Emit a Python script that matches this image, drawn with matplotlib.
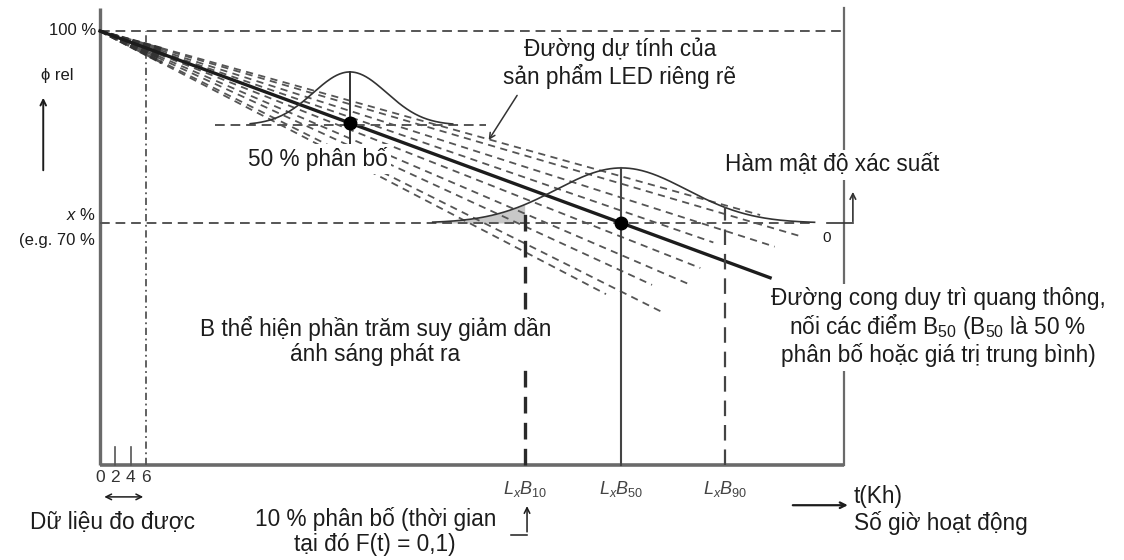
import numpy as np
import matplotlib; matplotlib.use('Agg'); import matplotlib.pyplot as plt

plt.rcParams['font.family'] = ['Liberation Sans', 'DejaVu Sans']
plt.rcParams['mathtext.fontset'] = 'custom'
plt.rcParams['mathtext.rm'] = 'Liberation Sans'
plt.rcParams['mathtext.it'] = 'Liberation Sans:italic'

# schematic data: t in kh, phi_rel in %
t_end = 97.0
phi_floor, phi_top = 32.2, 103.6
x_pct = 70
t_meas = 6
tick_vals = [0, 2, 4, 6]
t_b = [55.4, 68.0, 81.5]
b_labels = ['$L_xB_{10}$', '$L_xB_{50}$', '$L_xB_{90}$']
main_t_end = 87.4
fan_slopes = [-0.334, -0.351, -0.383, -0.413, -0.473, -0.515, -0.551, -0.599, -0.623]
fan_t_end = [86.1, 91.3, 88.0, 80.0, 78.3, 76.6, 72.0, 73.4, 66.0]
# density curves: centre, sigma, peak height, baseline, drawn range
pdf1 = dict(mu=32.6, sd=4.8, h=8.3, base=85.3, t0=19.6, t1=46.0, dash0=15.0, dash1=50.4)
pdf2 = dict(mu=68.0, sd=8.5, h=8.6, base=70.0, t0=43.4, t1=93.2)

ink = '#1c1c1c'
grey = '#555555'
axc = '#6a6a6a'
white = dict(facecolor='white', edgecolor='none', pad=2.5)
fs = 16.3

fig = plt.figure(figsize=(11.24, 5.6), dpi=100)
ax = fig.add_axes([0, 0, 1, 1])
ax.set_xlim(-13.04, 133.56)
ax.set_ylim(17.34, 104.84)
ax.axis('off')

main_slope = (x_pct - 100) / t_b[1]
g = lambda p, t: p['base'] + p['h'] * np.exp(-0.5 * ((t - p['mu']) / p['sd']) ** 2)

# frame / axes
ax.plot([0, 0], [phi_floor, phi_top], color=axc, lw=2.4, solid_capstyle='butt')
ax.plot([0, t_end], [phi_floor, phi_floor], color=axc, lw=2.6, solid_capstyle='butt')
ax.plot([t_end, t_end], [phi_floor, phi_top], color=axc, lw=1.6)
ax.plot([0, t_end], [100, 100], color=grey, lw=1.4, ls=(0, (5, 3)))
ax.plot([0, 93.2], [x_pct, x_pct], color=grey, lw=1.4, ls=(0, (5, 3)))
ax.plot([t_meas, t_meas], [phi_floor, 100], color=grey, lw=1.3, ls=(0, (4, 2, 1, 2)))
for tv in tick_vals[1:3]:
    ax.plot([tv, tv], [phi_floor, 35], color=grey, lw=1.2)

# fan of individual LED predictions
for s, te in zip(fan_slopes, fan_t_end):
    tt = np.array([0, te])
    ax.plot(tt, 100 + s * tt, color=grey, lw=1.3, ls=(0, (4, 3)))
    tm = np.array([0, t_meas + 2])
    ax.plot(tm, 100 + s * tm, color='#333333', lw=1.8, ls=(0, (3, 1.5)))

# lumen maintenance curve
tt = np.array([0, main_t_end])
ax.plot(tt, 100 + main_slope * tt, color=ink, lw=2.4)

# density 1
ax.plot([pdf1['dash0'], pdf1['dash1']], [pdf1['base']] * 2, color=grey, lw=1.4, ls=(0, (5, 3)))
tt = np.linspace(pdf1['t0'], pdf1['t1'], 200)
ax.plot(tt, g(pdf1, tt), color='#333333', lw=1.2)
ax.plot([pdf1['mu']] * 2, [82.2, pdf1['base'] + pdf1['h']], color='#333333', lw=1.4)
ax.plot([pdf1['mu']], [100 + main_slope * pdf1['mu']], 'o', color='black', ms=9)

# density 2
tt = np.linspace(pdf2['t0'], pdf2['t1'], 300)
ax.plot(tt, g(pdf2, tt), color='#333333', lw=1.2)
tf = tt[tt <= t_b[0]]
ax.fill_between(tf, pdf2['base'], g(pdf2, tf), color='#c8c8c8', lw=0)
ax.plot([pdf2['mu'], pdf2['mu']], [phi_floor, pdf2['base'] + pdf2['h']], color='#444444', lw=1.5)
ax.plot([pdf2['mu']], [x_pct], 'o', color='black', ms=9)
ax.plot([t_b[0]] * 2, [phi_floor, g(pdf2, t_b[0])], color='#2a2a2a', lw=2.4, ls=(0, (5, 2.8)))
ax.plot([t_b[2]] * 2, [phi_floor, g(pdf2, t_b[2])], color='#444444', lw=1.6, ls=(0, (7, 4)))

# density axis
ax.plot([94.8, 98.2], [x_pct, x_pct], color='#333333', lw=1.2)
ax.annotate('', xy=(98.2, 75.3), xytext=(98.2, 69.8),
            arrowprops=dict(arrowstyle='->', color='#333333', lw=1.2))
ax.text(94.8, 67.6, '0', fontsize=11, color=ink, ha='center', va='center')

# left labels
ax.text(-0.5, 100, '100 %', fontsize=12, ha='right', va='center', color=ink)
ax.text(-5.6, 93.1, 'ϕ rel', fontsize=12, ha='center', va='center', color=ink)
ax.annotate('', xy=(-7.4, 90.0), xytext=(-7.4, 77.8),
            arrowprops=dict(arrowstyle='->', color=ink, lw=1.4))
ax.text(-0.5, 71.3, '$x$ %', fontsize=12, ha='right', va='center', color=ink)
ax.text(-0.7, 67.3, '(e.g. 70 %', fontsize=12, ha='right', va='center', color=ink)

# x labels
for tv in tick_vals:
    ax.text(tv, 30.3, str(tv), fontsize=12.5, ha='center', va='center', color='#333333')
for tv, lab in zip(t_b, b_labels):
    ax.text(tv, 28.4, lab, fontsize=13, ha='center', va='center', color='#444444')
ax.annotate('', xy=(0.2, 27.2), xytext=(t_meas, 27.2),
            arrowprops=dict(arrowstyle='<->', color=ink, lw=1.1))
ax.text(1.6, 23.2, 'Dữ liệu đo được', fontsize=fs, ha='center', va='center', color=ink)
ax.text(35.9, 21.8, '10 % phân bố (thời gian\ntại đó F(t) = 0,1)', fontsize=fs,
        ha='center', va='center', multialignment='center', color=ink, linespacing=1.1)
ax.plot([53.6, 55.7], [21.3, 21.3], color=ink, lw=1.1)
ax.annotate('', xy=(55.7, 26.2), xytext=(55.7, 21.3),
            arrowprops=dict(arrowstyle='->', color=ink, lw=1.1))
ax.annotate('', xy=(97.9, 25.9), xytext=(90.0, 25.9),
            arrowprops=dict(arrowstyle='->', color=ink, lw=1.6))
ax.text(98.3, 27.3, 't(Kh)', fontsize=fs, ha='left', va='center', color=ink)
ax.text(98.3, 23.1, 'Số giờ hoạt động', fontsize=fs, ha='left', va='center', color=ink)

# annotations inside
ax.text(67.8, 95.0, 'Đường dự tính của\nsản phẩm LED riêng rẽ', fontsize=fs,
        ha='center', va='center', multialignment='center', color=ink, linespacing=1.15)
ax.annotate('', xy=(50.5, 82.6), xytext=(54.6, 90.3),
            arrowprops=dict(arrowstyle='->', color='#333333', lw=1.1))
ax.text(28.4, 80.0, '50 % phân bố', fontsize=fs, ha='center', va='center',
        color=ink, bbox=white, zorder=5)
ax.text(81.5, 79.1, 'Hàm mật độ xác suất', fontsize=fs, ha='left', va='center',
        color=ink, bbox=white, zorder=5)
ax.text(109.3, 53.7, 'Đường cong duy trì quang thông,\nnối các điểm B$_{50}$ (B$_{50}$ là 50 %\n'
        'phân bố hoặc giá trị trung bình)', fontsize=fs, ha='center', va='center',
        multialignment='center', color=ink, linespacing=1.1, bbox=white, zorder=5)
ax.text(35.9, 51.6, 'B thể hiện phần trăm suy giảm dần\nánh sáng phát ra', fontsize=fs,
        ha='center', va='center', multialignment='center', color=ink, linespacing=1.1,
        bbox=white, zorder=5)

fig.savefig('out.png', dpi=100)
